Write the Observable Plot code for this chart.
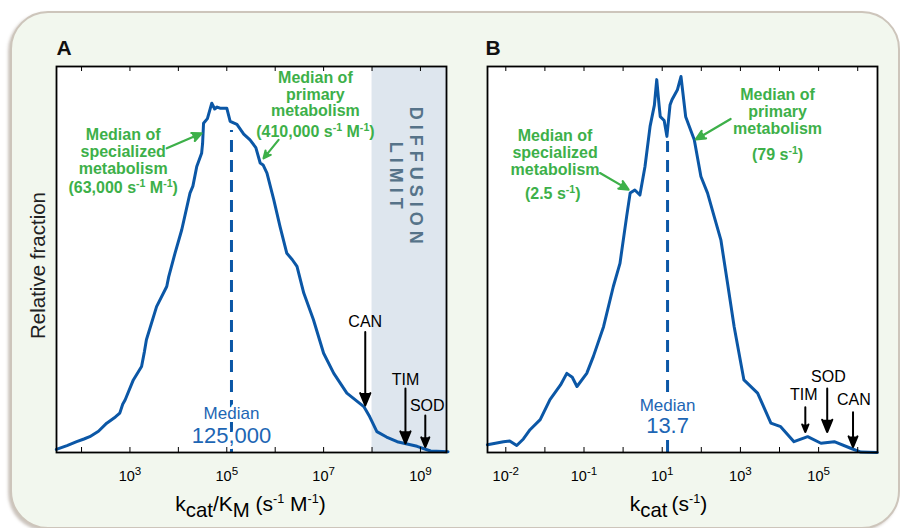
<!DOCTYPE html>
<html><head><meta charset="utf-8">
<script src="https://cdn.jsdelivr.net/npm/d3@7"></script>
<script src="https://cdn.jsdelivr.net/npm/@observablehq/plot@0.6"></script>
<style>
body{margin:0;background:#fff;}
#wrap{position:relative;width:900px;height:528px;overflow:hidden;background:#fff;}
#bg{position:absolute;left:10px;top:11px;width:886px;height:514px;border-radius:38px;background:#f2f7ee;border:2px solid #cdc5bb;box-shadow:-2px 2px 3px rgba(110,90,70,.35);}
.panel{position:absolute;top:0;}
</style></head>
<body><div id="wrap"><div id="bg"></div><div id="pa" class="panel" style="left:0"></div><div id="pb" class="panel" style="left:450px"></div></div>
<script>
// ---------- Panel A data: log10(kcat/KM) and relative fraction ----------
const logKA = [1.48,1.70,1.90,2.05,2.17,2.35,2.52,2.70,2.79,2.85,2.90,3.07,3.24,3.30,3.34,3.55,3.76,3.80,3.93,4.07,4.24,4.30,4.38,4.48,4.50,4.52,4.60,4.69,4.75,4.80,4.86,5.00,5.07,5.21,5.35,5.48,5.60,5.69,5.75,5.83,5.97,6.10,6.24,6.35,6.45,6.59,6.79,7.00,7.21,7.48,7.83,7.95,8.10,8.30,8.52,8.93,9.21,9.57];
const fracA = [0.008,0.018,0.028,0.035,0.041,0.055,0.076,0.092,0.102,0.125,0.136,0.188,0.223,0.262,0.292,0.378,0.430,0.455,0.516,0.577,0.672,0.690,0.741,0.775,0.800,0.853,0.865,0.905,0.890,0.895,0.892,0.892,0.858,0.850,0.825,0.810,0.790,0.750,0.745,0.724,0.655,0.585,0.516,0.500,0.482,0.413,0.344,0.257,0.205,0.154,0.119,0.093,0.054,0.040,0.028,0.016,0.004,0.002];
const domainA = [1.483, 9.538];
const decadesA = [1e2,1e3,1e4,1e5,1e6,1e7,1e8,1e9];
const tickValsA = [1e3,1e5,1e7,1e9];
const tickExpA = ["3","5","7","9"];
const medianA = 125000;
const diffusionLimit = 1e8;

// ---------- Panel B data: log10(kcat) and relative fraction ----------
const logKB = [-3.47,-3.06,-2.90,-2.72,-2.55,-2.38,-2.12,-1.87,-1.60,-1.44,-1.30,-1.18,-0.93,-0.76,-0.50,-0.25,-0.08,0.09,0.18,0.30,0.43,0.56,0.69,0.80,0.86,0.92,0.95,1.05,1.12,1.20,1.25,1.39,1.48,1.60,1.82,1.99,2.16,2.33,2.50,2.67,2.84,3.09,3.44,3.78,4.03,4.37,4.72,5.06,5.40,5.82,6.08,6.50];
const fracB = [0.020,0.028,0.030,0.018,0.035,0.059,0.085,0.137,0.175,0.205,0.195,0.171,0.205,0.249,0.326,0.430,0.490,0.611,0.672,0.680,0.667,0.741,0.845,0.900,0.966,0.900,0.870,0.860,0.819,0.900,0.914,0.940,0.974,0.870,0.810,0.715,0.672,0.611,0.551,0.439,0.326,0.188,0.154,0.076,0.067,0.028,0.041,0.024,0.028,0.011,0.001,0.000];
const domainB = [-3.468, 6.506];
const decadesB = [1e-3,1e-2,1e-1,1e0,1e1,1e2,1e3,1e4,1e5,1e6];
const tickValsB = [1e-3,1e-1,1e1,1e3,1e5];
const tickExpB = ["-2","-1","1","3","5"];
const medianB = 13.7;

// ---------- Annotations (x in log10 units, y in relative fraction) ----------
const notesA = [
  {x:2.86, y:0.780, text:"Median of\nspecialized\nmetabolism"},
  {x:2.86, y:0.686, text:"(63,000 s^{-1} M^{-1})"},
  {x:6.83, y:0.928, text:"Median of\nprimary\nmetabolism"},
  {x:6.83, y:0.832, text:"(410,000 s^{-1} M^{-1})"}
];
const greenArrowsA = [
  {x1:3.76, y1:0.788, x2:4.48, y2:0.827},
  {x1:6.07, y1:0.810, x2:5.76, y2:0.762}
];
const enzymesA = [
  {name:"CAN", x:7.86, y1:0.312, y2:0.122, lx:7.86, ly:0.338},
  {name:"TIM", x:8.69, y1:0.166, y2:0.023, lx:8.69, ly:0.189},
  {name:"SOD", x:9.10, y1:0.096, y2:0.014, lx:9.14, ly:0.122}
];
const notesB = [
  {x:-1.74, y:0.777, text:"Median of\nspecialized\nmetabolism"},
  {x:-1.80, y:0.671, text:"(2.5 s^{-1})"},
  {x:3.95, y:0.883, text:"Median of\nprimary\nmetabolism"},
  {x:3.95, y:0.772, text:"(79 s^{-1})"}
];
const greenArrowsB = [
  {x1:-0.59, y1:0.724, x2:0.14, y2:0.681},
  {x1:2.75, y1:0.864, x2:1.86, y2:0.811}
];
const enzymesB = [
  {name:"TIM", x:4.66, y1:0.117, y2:0.053, lx:4.62, ly:0.148},
  {name:"SOD", x:5.22, y1:0.166, y2:0.053, lx:5.25, ly:0.195},
  {name:"CAN", x:5.88, y1:0.104, y2:0.014, lx:5.90, ly:0.137}
];

const FONT = '"Liberation Sans", Arial, Helvetica, sans-serif';
const BLUE = "#0b57a6", GREEN = "#3db049", MBLUE = "#1d66b4";
const W = 450, H = 528;
const X = e => Math.pow(10, e);

function makePanel(c) {
  const fh = H - c.mt - c.mb;
  const curve = c.logs.map((l, i) => ({x: X(l), y: c.fracs[i]}));
  const marks = [
    Plot.frame({fill: "white", stroke: "none"})
  ];
  if (c.shade) {
    marks.push(Plot.rect([c.shade], {x1: d => d, x2: () => X(c.domain[1]), fill: "#dee6ee"}));
    marks.push(Plot.text(["DIFFUSION\nLIMIT"], {x: () => X(8.71), y: () => 0.712, text: d => d, rotate: 90,
      fontSize: 18, fontWeight: "bold", fill: "#567389", lineHeight: 1.1, textAnchor: "middle", lineAnchor: "middle"}));
  }
  marks.push(
    Plot.ruleX([c.median], {y1: 0, y2: c.medTop, stroke: BLUE, strokeWidth: 3, strokeDasharray: "12,8"}),
    Plot.line(curve, {x: "x", y: "y", stroke: BLUE, strokeWidth: 3, strokeLinejoin: "round"}),
    Plot.text(["Median"], {x: () => c.median, y: () => c.medY1, text: d => d, fill: MBLUE, fontSize: 17,
      stroke: "white", strokeWidth: 6, lineAnchor: "middle"}),
    Plot.text([c.medText], {x: () => c.median, y: () => c.medY2, text: d => d, fill: MBLUE, fontSize: 22,
      stroke: "white", strokeWidth: 6, lineAnchor: "middle"}),
    Plot.text(c.notes, {x: d => X(d.x), y: "y", text: "text", fill: GREEN, fontWeight: "bold", fontSize: 16,
      lineHeight: 1.05, lineAnchor: "middle", textAnchor: "middle"}),
    Plot.arrow(c.garrows, {x1: d => X(d.x1), y1: "y1", x2: d => X(d.x2), y2: "y2", stroke: GREEN, fill: GREEN,
      strokeWidth: 2.2, headLength: 7, headAngle: 50}),
    Plot.arrow(c.enzymes, {x1: d => X(d.x), x2: d => X(d.x), y1: "y1", y2: "y2", stroke: "black", fill: "black",
      strokeWidth: 2, headLength: 10, headAngle: 45}),
    Plot.text(c.enzymes, {x: d => X(d.lx), y: "ly", text: "name", fontSize: 16, fill: "black", lineAnchor: "middle"}),
    Plot.ruleX(c.decades, {insetTop: fh - 5, stroke: "black", strokeWidth: 1}),
    Plot.ruleX(c.decades, {insetBottom: fh - 5, stroke: "black", strokeWidth: 1}),
    Plot.text(c.tickVals, {x: d => d, frameAnchor: "bottom", lineAnchor: "bottom", dy: 28,
      text: (d, i) => `10^{${c.tickExp[i]}}`, fontSize: 14.5, fill: "black", textAnchor: "middle"}),
    Plot.text([c.xlabel], {frameAnchor: "bottom", lineAnchor: "bottom", textAnchor: "middle", dy: 58, dx: c.xlabelDx,
      text: d => d, fontSize: 21, fill: "black"}),
    Plot.text([c.letter], {frameAnchor: "top-left", textAnchor: "start", lineAnchor: "bottom", dy: -12, dx: c.letterDx,
      text: d => d, fontSize: 21, fontWeight: "bold", fill: "#111"}),
    Plot.frame({stroke: "black", strokeWidth: 1.8})
  );
  if (c.ylabel) {
    marks.push(Plot.text([c.ylabel], {frameAnchor: "left", rotate: -90, dx: -18, dy: 6, text: d => d,
      fontSize: 20.5, textAnchor: "middle", lineAnchor: "middle", fill: "#222"}));
  }
  return Plot.plot({
    width: W, height: H,
    marginLeft: c.ml, marginRight: c.mr, marginTop: c.mt, marginBottom: c.mb,
    style: {background: "transparent", fontFamily: FONT, overflow: "visible"},
    x: {type: "log", domain: [X(c.domain[0]), X(c.domain[1])], axis: null},
    y: {domain: [0, 1], axis: null},
    marks
  });
}

function richify(svg) {
  const NS = "http://www.w3.org/2000/svg";
  svg.querySelectorAll("text").forEach(t => {
    if (t.textContent.includes("DIFFUSION")) t.setAttribute("letter-spacing", "5");
    const spans = Array.from(t.querySelectorAll("tspan"));
    const targets = spans.length ? spans : [t];
    targets.forEach(node => {
      const s = node.textContent;
      if (!/[\^_]\{/.test(s)) return;
      const fs = parseFloat(getComputedStyle(node).fontSize) || 16;
      node.textContent = "";
      s.split(/([\^_]\{[^}]*\})/).forEach(part => {
        if (!part) return;
        const m = part.match(/^([\^_])\{([^}]*)\}$/);
        if (m) {
          const ts = document.createElementNS(NS, "tspan");
          const sup = m[1] === "^";
          const ratio = sup ? (fs < 15 ? 0.8 : fs > 19 ? 0.6 : 0.66) : 0.97;
          ts.setAttribute("font-size", fs * ratio);
          ts.setAttribute("baseline-shift", sup ? fs * 0.4 : -fs * 0.3);
          ts.textContent = m[2];
          node.appendChild(ts);
        } else node.appendChild(document.createTextNode(part));
      });
    });
  });
}

const plotA = makePanel({
  logs: logKA, fracs: fracA, domain: domainA, decades: decadesA, tickVals: tickValsA, tickExp: tickExpA,
  median: medianA, medTop: 0.834, medY1: 0.101, medY2: 0.044, medText: "125,000",
  shade: diffusionLimit, notes: notesA, garrows: greenArrowsA, enzymes: enzymesA,
  xlabel: "k_{cat}/K_{M} (s^{-1} M^{-1})", xlabelDx: -1, letter: "A", letterDx: 0, ylabel: "Relative fraction",
  ml: 56, mr: 4, mt: 66, mb: 76
});
const plotB = makePanel({
  logs: logKB, fracs: fracB, domain: domainB, decades: decadesB, tickVals: tickValsB, tickExp: tickExpB,
  median: medianB, medTop: 0.806, medY1: 0.122, medY2: 0.068, medText: "13.7",
  shade: null, notes: notesB, garrows: greenArrowsB, enzymes: enzymesB,
  xlabel: "k_{cat}\u2009(s^{-1})", xlabelDx: -14, letter: "B", letterDx: -2, ylabel: null,
  ml: 37, mr: 23, mt: 66, mb: 76
});
document.getElementById("pa").appendChild(plotA);
document.getElementById("pb").appendChild(plotB);
richify(plotA);
richify(plotB);
</script>
</body></html>
